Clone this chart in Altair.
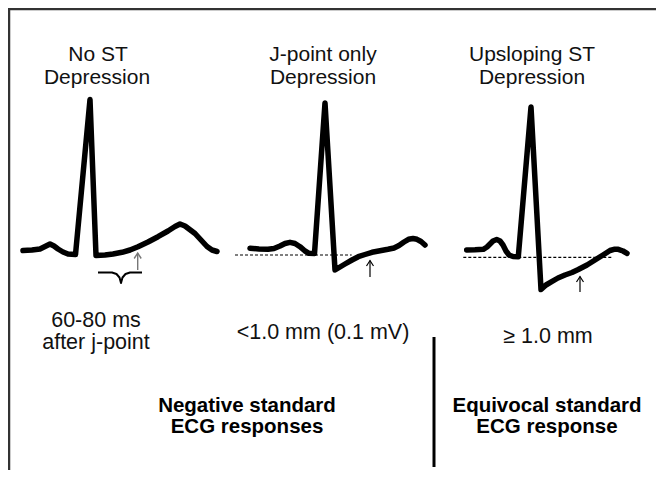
import altair as alt
import pandas as pd

# ---------------- data (diagram units, y grows downward) ----------------
# Panel 1: No ST depression
t1_x = [23, 32, 40, 45, 50, 54, 58, 63, 68, 75.5, 90, 96, 105, 113, 122, 130, 138, 148, 158, 168, 175, 180, 185, 195, 201, 207, 212, 217]
t1_y = [250.5, 250, 249, 246.5, 244, 246, 249, 252, 254, 254.5, 99.5, 255.5, 255, 254, 252.3, 250, 246.7, 242, 236.7, 231, 226.5, 224, 226, 233.5, 240, 246.5, 250, 251.5]
# Panel 2: J-point only depression
t2_x = [250, 259, 268, 274, 280, 285, 290, 295, 300, 305, 309, 314.5, 325, 335, 340, 345, 352, 358.3, 365, 372, 380, 388, 394, 399, 404, 408.5, 413, 417, 421, 425]
t2_y = [248.3, 249, 249.3, 248.5, 246, 243.5, 242.3, 243.5, 246.7, 251, 253.3, 253.5, 103, 270, 267, 264, 260, 256.7, 254.5, 252.3, 250.8, 249.3, 248, 245.5, 242, 239.3, 238.5, 239.3, 241.5, 245]
# Panel 3: Upsloping ST depression
t3_x = [466.7, 475, 483.3, 487, 490, 493, 496.7, 500, 503, 506, 509, 513, 518.3, 531, 541, 546, 551.7, 558, 565, 572, 578.3, 587, 595, 603, 610, 614, 618.3, 623, 627]
t3_y = [250, 249.8, 249.3, 247, 244, 241, 239.5, 241, 245, 251, 255, 256.5, 256.7, 107, 289.5, 285, 281.7, 278, 275, 272.5, 269.5, 265, 260, 255, 250.5, 249.3, 249.3, 251, 253.3]

# Isoelectric (dashed) reference lines
base_x1 = [235, 463.3]
base_x2 = [351.7, 613.3]
base_y = [255, 257.3]

# Measurement arrows: x, tip, tail
arrow_x = [137.7, 370, 580]
arrow_tip = [253, 260.5, 276.5]
arrow_tail = [270, 277, 292]

# Brace under panel 1 ST segment
brace_x = [98, 112, 116.5, 119.5, 121, 122.5, 125.5, 130, 142]
brace_y = [272.5, 272.5, 274, 277.5, 283, 277.5, 274, 272.5, 272.5]

# Frame and divider
frame_x = [656, 9, 9]
frame_y = [9, 9, 470]
divider_x = [434]
divider_y1 = [337]
divider_y2 = [467]

# Text labels
head_text = ["No ST", "Depression", "J-point only", "Depression", "Upsloping ST", "Depression"]
head_x = [98, 97, 323, 323, 532, 532]
head_y = [61, 84, 61, 84, 61, 84]

meas_text = ["60-80 ms", "after j-point", "<1.0 mm (0.1 mV)", "\u2265 1.0 mm"]
meas_x = [96, 96, 323, 548]
meas_y = [327, 349, 339, 343]

bold_text = ["Negative standard", "ECG responses", "Equivocal standard", "ECG response"]
bold_x = [247, 247, 547, 547]
bold_y = [412, 433, 412, 433]

# ---------------- build tables ----------------
def rows(xs, ys, grp):
    return [{"x": a, "y": b, "grp": grp, "idx": i} for i, (a, b) in enumerate(zip(xs, ys))]

traces = pd.DataFrame(rows(t1_x, t1_y, "t1") + rows(t2_x, t2_y, "t2") + rows(t3_x, t3_y, "t3"))
dashed = pd.DataFrame(sum([rows([a, b], [c, c], f"d{i}") for i, (a, b, c) in enumerate(zip(base_x1, base_x2, base_y))], []))

arrow_rows = []
for i, (ax, tip, tail) in enumerate(zip(arrow_x, arrow_tip, arrow_tail)):
    arrow_rows += rows([ax, ax], [tail, tip], f"s{i}")
    arrow_rows += rows([ax - 3.5, ax, ax + 3.5], [tip + 5.5, tip, tip + 5.5], f"h{i}")
arrows = pd.DataFrame(arrow_rows)
arrows["panel"] = arrows["grp"].str[1].astype(int)

brace = pd.DataFrame(rows(brace_x, brace_y, "b"))
frame = pd.DataFrame(rows(frame_x, frame_y, "f"))
divider = pd.DataFrame({"x": divider_x, "y": divider_y1, "y2": divider_y2})
heads = pd.DataFrame({"x": head_x, "y": head_y, "t": head_text})
meas = pd.DataFrame({"x": meas_x, "y": meas_y, "t": meas_text})
bolds = pd.DataFrame({"x": bold_x, "y": bold_y, "t": bold_text})

xs = alt.Scale(domain=[8, 656], nice=False, zero=False)
ys = alt.Scale(domain=[8, 470], reverse=True, nice=False, zero=False)
X = alt.X("x:Q", scale=xs, axis=None)
Y = alt.Y("y:Q", scale=ys, axis=None)


def line_layer(df, **kw):
    return alt.Chart(df).mark_line(**kw).encode(x=X, y=Y, detail="grp:N", order=alt.Order("idx:Q"))


frame_l = line_layer(frame, color="#333333", strokeWidth=2.5)
dashed_l = line_layer(dashed, color="#000000", strokeWidth=1.2, strokeDash=[3, 2])
trace_l = line_layer(traces, color="#000000", strokeWidth=5.5, strokeJoin="round", strokeCap="round")
arrow1_l = line_layer(arrows[arrows.panel == 0], color="#777777", strokeWidth=1.4)
arrow23_l = line_layer(arrows[arrows.panel > 0], color="#000000", strokeWidth=1.2)
brace_l = line_layer(brace, color="#000000", strokeWidth=2, strokeJoin="round")
divider_l = alt.Chart(divider).mark_rule(color="#000000", strokeWidth=3).encode(x=X, y=Y, y2="y2:Q")

font = "Liberation Sans"
head_l = alt.Chart(heads).mark_text(font=font, fontSize=21, align="center", baseline="alphabetic", color="#111111").encode(x=X, y=Y, text="t:N")
meas_l = alt.Chart(meas).mark_text(font=font, fontSize=21.5, align="center", baseline="alphabetic", color="#111111").encode(x=X, y=Y, text="t:N")
bold_l = alt.Chart(bolds).mark_text(font=font, fontSize=20.5, fontWeight="bold", align="center", baseline="alphabetic", color="#000000").encode(x=X, y=Y, text="t:N")

chart = alt.layer(
    frame_l, dashed_l, trace_l, arrow1_l, arrow23_l, brace_l, divider_l, head_l, meas_l, bold_l
).properties(
    width=648, height=462, padding=0, autosize="none", background="white"
).configure_view(stroke=None)

chart.save("out.html", embed_options={"renderer": "svg", "actions": False})
